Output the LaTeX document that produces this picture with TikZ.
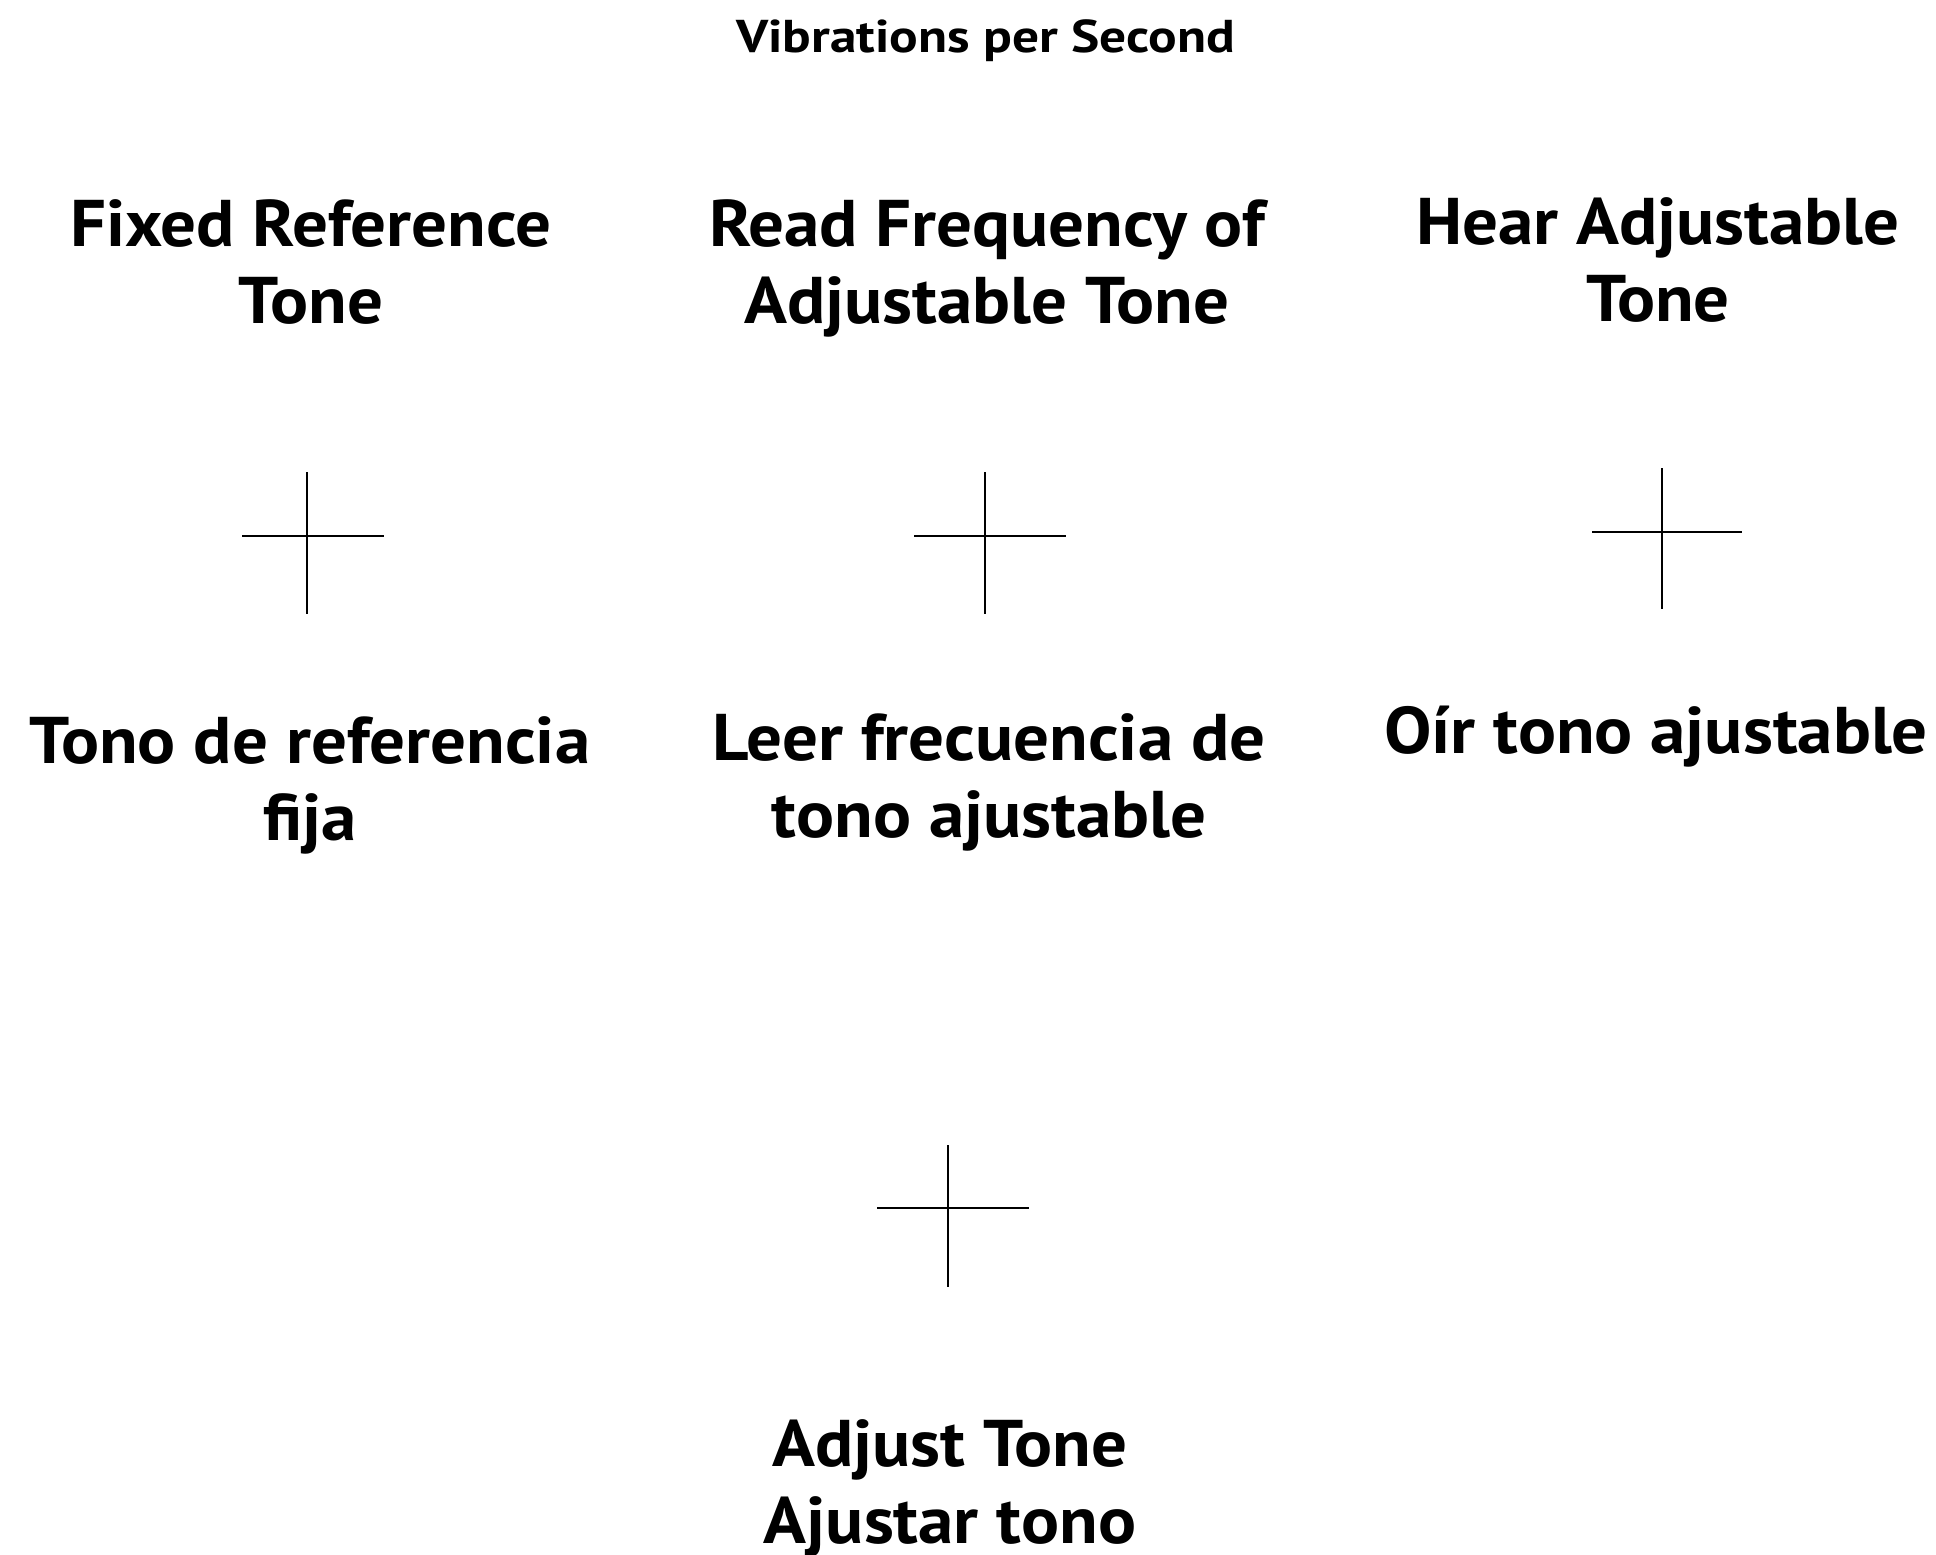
\documentclass[tikz,border=0pt]{standalone}
\usepackage{fontspec}
\setmainfont{PT Sans}
\newfontfamily\lblfont[FakeStretch=1.075]{PT Sans}
\newfontfamily\ttlfont[FakeStretch=1.16]{PT Sans}
\begin{document}
\begin{tikzpicture}[x=1pt,y=-1pt,
  lbl/.style={anchor=base, align=center, inner sep=0pt, font=\lblfont\bfseries\fontsize{66}{77}\selectfont},
  ttl/.style={anchor=base, inner sep=0pt, font=\ttlfont\bfseries\fontsize{46}{52}\selectfont},
  cross/.style={line width=2pt, black}]
\useasboundingbox (0,0) rectangle (1936,1555);
\node[ttl] (title) at (986,53) {Vibrations per Second};
\node[lbl] (fixed) at (311,323) {Fixed Reference\\Tone};
\node[lbl] (read) at (987,323) {Read Frequency of\\Adjustable Tone};
\node[lbl] (hear) at (1658,321) {Hear Adjustable\\Tone};
\node[lbl] (tono) at (310,840) {Tono de referencia\\fija};
\node[lbl] (leer) at (989,837) {Leer frecuencia de\\tono ajustable};
\node[lbl] (oir) at (1656,753) {Oír tono ajustable};
\node[lbl] (adj) at (950,1543) {Adjust Tone\\Ajustar tono};
% crosses
\coordinate (c1t) at (307,472); \coordinate (c1b) at (307,614);
\coordinate (c1l) at (242,536); \coordinate (c1r) at (384,536);
\coordinate (c2t) at (985,472); \coordinate (c2b) at (985,614);
\coordinate (c2l) at (914,536); \coordinate (c2r) at (1066,536);
\coordinate (c3t) at (1662,468); \coordinate (c3b) at (1662,609);
\coordinate (c3l) at (1592,532); \coordinate (c3r) at (1742,532);
\coordinate (c4t) at (948,1145); \coordinate (c4b) at (948,1287);
\coordinate (c4l) at (877,1208); \coordinate (c4r) at (1029,1208);
\draw[cross] (c1t) -- (c1b) (c1l) -- (c1r);
\draw[cross] (c2t) -- (c2b) (c2l) -- (c2r);
\draw[cross] (c3t) -- (c3b) (c3l) -- (c3r);
\draw[cross] (c4t) -- (c4b) (c4l) -- (c4r);
\end{tikzpicture}
\end{document}
